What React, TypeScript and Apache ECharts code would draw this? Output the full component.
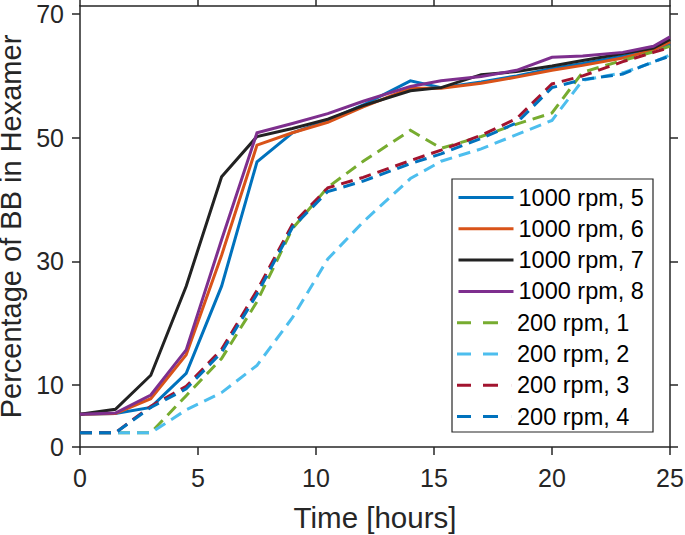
import React, { useEffect, useRef } from "react";
import * as echarts from "echarts";

// Sampling times (hours)
const times = [0, 1.5, 3, 4.5, 6, 7.5, 9, 10.5, 12, 14, 15.3, 17, 18.5, 20, 21.3, 23, 24.3, 25];

// Series (percentage of BB in hexamer)
const rpm1000_5 = [5.3, 5.4, 6.4, 11.9, 26, 46.1, 50.8, 52.8, 55.3, 59.2, 58.1, 59.0, 60.0, 61.2, 62.0, 63.2, 64.3, 65.2];
const rpm1000_6 = [5.3, 5.4, 7.8, 14.9, 31, 48.8, 50.8, 52.5, 55.0, 58.0, 58.0, 58.8, 59.8, 60.9, 61.7, 62.9, 64.2, 65.5];
const rpm1000_7 = [5.3, 6.1, 11.6, 26, 43.7, 50.2, 51.5, 53.0, 55.2, 57.6, 58.1, 60.2, 60.7, 61.6, 62.5, 63.6, 64.5, 65.9];
const rpm1000_8 = [5.3, 5.5, 8.4, 15.7, 33.5, 50.8, 52.3, 53.9, 55.9, 58.3, 59.2, 59.9, 60.9, 63.0, 63.2, 63.8, 64.8, 66.3];
const rpm200_1 = [2.3, 2.3, 2.3, 8.3, 14.3, 23.5, 35.3, 42.0, 46.2, 51.2, 48.3, 50.2, 52.2, 54.0, 60.6, 62.5, 63.9, 64.8];
const rpm200_2 = [2.3, 2.3, 2.3, 6.0, 8.8, 13.2, 20.9, 30.4, 36.4, 43.4, 46.2, 48.2, 50.5, 52.8, 59.3, 60.5, 62.2, 63.4];
const rpm200_3 = [2.3, 2.3, 6.6, 9.8, 15.8, 25.3, 36.0, 41.9, 43.6, 46.3, 48.0, 50.4, 53.1, 58.7, 60.0, 62.3, 63.8, 64.6];
const rpm200_4 = [2.3, 2.3, 6.4, 9.4, 15.3, 24.7, 35.5, 41.3, 43.0, 45.8, 47.4, 49.9, 52.4, 58.1, 59.4, 60.3, 62.3, 63.2];

const seriesNames = [
  "1000 rpm, 5",
  "1000 rpm, 6",
  "1000 rpm, 7",
  "1000 rpm, 8",
  "200 rpm, 1",
  "200 rpm, 2",
  "200 rpm, 3",
  "200 rpm, 4",
];
const seriesValues = [rpm1000_5, rpm1000_6, rpm1000_7, rpm1000_8, rpm200_1, rpm200_2, rpm200_3, rpm200_4];
const seriesColors = ["#0072BD", "#D95319", "#222222", "#7E2F8E", "#77AC30", "#4DBEEE", "#A2142F", "#0072BD"];
const seriesDashed = [false, false, false, false, true, true, true, true];

const yTickValues = [0, 10, 30, 50, 70];
const xMin = 0;
const xMax = 25;
const xInterval = 5;
const yMin = 0;
const yMax = 71.3;

const xTitle = "Time [hours]";
const yTitle = "Percentage of BB in Hexamer";

const FONT = "'Liberation Sans', Arial, Helvetica, sans-serif";
const AXIS_COLOR = "#262626";

export default function App() {
  const ref = useRef<HTMLDivElement>(null);

  useEffect(() => {
    const chart = echarts.init(ref.current!, null, { renderer: "svg" });

    const axisLine = { show: true, onZero: false, lineStyle: { color: AXIS_COLOR, width: 1.5 } };
    const axisTick = { show: true, inside: false, length: 8, lineStyle: { color: AXIS_COLOR, width: 1.5 } };

    const series = seriesValues.map((vals, i) => ({
      name: seriesNames[i],
      type: "line",
      xAxisIndex: 0,
      yAxisIndex: 0,
      data: times.map((t, j) => [t, vals[j]]),
      symbol: "none",
      showSymbol: false,
      clip: true,
      lineStyle: {
        color: seriesColors[i],
        width: 3,
        type: seriesDashed[i] ? [12, 7] : "solid",
        cap: "butt",
        join: "miter",
      },
      itemStyle: { color: seriesColors[i] },
      emphasis: { disabled: true },
    }));

    const legendBase = {
      show: true,
      orient: "vertical",
      left: 457,
      padding: 0,
      itemWidth: 55,
      itemGap: 7.3,
      selectedMode: false,
      textStyle: { color: "#000000", fontSize: 23.5, fontFamily: FONT, lineHeight: 24 },
      z: 10,
    };

    chart.setOption({
      animation: false,
      backgroundColor: "#ffffff",
      textStyle: { fontFamily: FONT },
      grid: { left: 80, right: 15, top: 6, bottom: 88, containLabel: false, outerBoundsMode: "none" },
      xAxis: [
        {
          type: "value",
          position: "bottom",
          min: xMin,
          max: xMax,
          interval: xInterval,
          axisLine,
          axisTick,
          splitLine: { show: false },
          axisLabel: { color: AXIS_COLOR, fontSize: 25, fontFamily: FONT, margin: 18 },
          name: xTitle,
          nameLocation: "middle",
          nameGap: 55,
          nameTextStyle: { color: AXIS_COLOR, fontSize: 29.5, fontFamily: FONT },
        },
        {
          type: "value",
          position: "top",
          min: xMin,
          max: xMax,
          interval: xInterval,
          axisLine,
          axisTick,
          splitLine: { show: false },
          axisLabel: { show: false },
        },
      ],
      yAxis: [
        {
          type: "value",
          position: "left",
          min: yMin,
          max: yMax,
          axisLine,
          axisTick: { ...axisTick, customValues: yTickValues },
          splitLine: { show: false },
          axisLabel: { color: AXIS_COLOR, fontSize: 25, fontFamily: FONT, margin: 16, customValues: yTickValues },
          name: yTitle,
          nameLocation: "middle",
          nameRotate: 90,
          nameGap: 36,
          nameTextStyle: { color: AXIS_COLOR, fontSize: 29, fontFamily: FONT },
        },
        {
          type: "value",
          position: "right",
          min: yMin,
          max: yMax,
          axisLine,
          axisTick: { ...axisTick, customValues: yTickValues },
          splitLine: { show: false },
          axisLabel: { show: false, customValues: yTickValues },
        },
      ],
      graphic: [
        {
          type: "rect",
          z: 5,
          shape: { x: 452, y: 179, width: 201, height: 253 },
          style: { fill: "#ffffff", stroke: AXIS_COLOR, lineWidth: 1.2 },
        },
      ],
      legend: [
        {
          ...legendBase,
          top: 185.5,
          itemHeight: 14,
          itemStyle: { opacity: 0 },
          lineStyle: { width: 3 },
          data: seriesNames.filter((_, i) => !seriesDashed[i]),
        },
        {
          ...legendBase,
          top: 185.5 + 4 * 31.3,
          itemHeight: 3.2,
          icon: "path://M0,0h14v3h-14zM26,0h15v3h-15zM54.9,0h0.1v3h-0.1z",
          data: seriesNames.filter((_, i) => seriesDashed[i]),
        },
      ],
      series,
    });

    return () => chart.dispose();
  }, []);

  return (
    <div
      ref={ref}
      style={{ position: "absolute", left: 0, top: 0, width: 685, height: 535, background: "#ffffff" }}
    />
  );
}
